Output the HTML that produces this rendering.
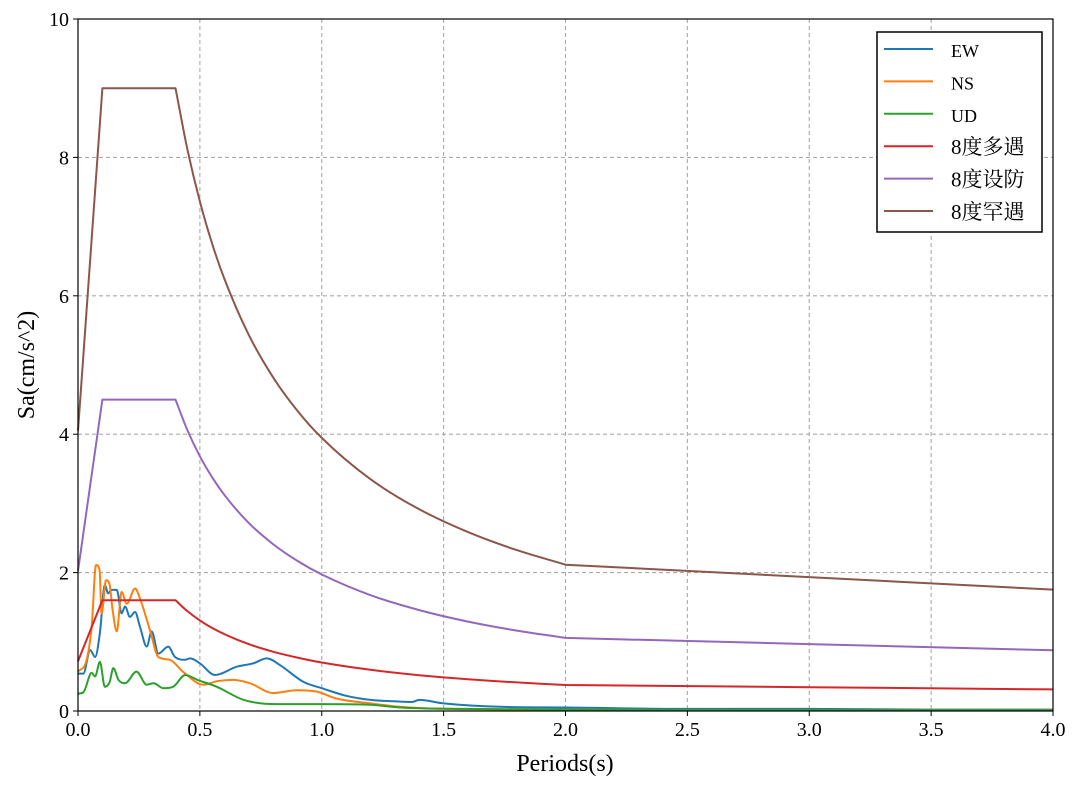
<!DOCTYPE html>
<html><head><meta charset="utf-8">
<style>
html,body{margin:0;padding:0;background:#fff;}
svg{display:block;}
text{font-family:"Liberation Serif","Noto Serif CJK SC",serif;}
</style></head>
<body>
<svg id="chart" width="1080" height="788" xmlns="http://www.w3.org/2000/svg">
<g id="grid"></g>
<g id="series"></g>
<rect x="78" y="19" width="975" height="692" fill="none" stroke="#000" stroke-width="1.2"/>
<g id="ticks"></g>
<text x="565" y="771" font-size="24" text-anchor="middle">Periods(s)</text>
<text transform="translate(34,365) rotate(-90)" font-size="24" text-anchor="middle">Sa(cm/s^2)</text>
<g id="legend">
<rect x="877" y="32" width="165" height="200" fill="#fff" stroke="#000" stroke-width="1.5"/>
</g>
</svg>
<script>
// design spectrum periods and values
const codePeriods=[0,0.1,0.4,0.45,0.5,0.55,0.6,0.7,0.8,0.9,1.0,1.2,1.4,1.6,1.8,2.0,4.0];
const kinkPeriods=[0.1,0.4,2.0];
const freqValues=[0.72,1.6,1.6,1.439,1.309,1.201,1.111,0.967,0.857,0.771,0.701,0.595,0.518,0.460,0.413,0.376,0.312];
const designValues=[2.025,4.5,4.5,4.047,3.681,3.379,3.124,2.719,2.412,2.169,1.973,1.674,1.458,1.292,1.162,1.057,0.877];
const rareValues=[4.05,9,9,8.095,7.363,6.757,6.249,5.439,4.823,4.338,3.946,3.349,2.915,2.585,2.325,2.114,1.754];
// recorded spectra
const ewPeriods=[0,0.022,0.05,0.07,0.09,0.11,0.124,0.137,0.159,0.179,0.193,0.213,0.234,0.254,0.282,0.302,0.33,0.37,0.398,0.439,0.46,0.5,0.562,0.651,0.72,0.774,0.83,0.925,1.0,1.1,1.2,1.3,1.37,1.4,1.5,1.73,2.0,2.5,3.0,3.5,4.0];
const ewValues=[0.54,0.54,0.88,0.78,1.13,1.82,1.70,1.75,1.75,1.41,1.51,1.36,1.43,1.22,0.93,1.15,0.83,0.93,0.78,0.74,0.76,0.69,0.52,0.64,0.69,0.76,0.66,0.42,0.33,0.22,0.16,0.14,0.13,0.16,0.11,0.06,0.05,0.03,0.03,0.02,0.02];
const nsPeriods=[0,0.035,0.056,0.074,0.088,0.097,0.115,0.129,0.142,0.159,0.179,0.2,0.234,0.254,0.295,0.33,0.377,0.43,0.514,0.57,0.637,0.706,0.8,0.897,0.98,1.06,1.2,1.32,1.5,2.0,3.0,4.0];
const nsValues=[0.57,0.73,1.22,2.11,2.04,1.41,1.89,1.84,1.46,1.15,1.72,1.55,1.77,1.63,1.17,0.78,0.74,0.57,0.38,0.43,0.45,0.40,0.26,0.30,0.28,0.18,0.11,0.06,0.03,0.02,0.01,0.01];
const udPeriods=[0,0.022,0.056,0.07,0.09,0.11,0.13,0.145,0.166,0.193,0.24,0.282,0.31,0.35,0.39,0.44,0.49,0.57,0.68,0.815,1.0,1.2,1.32,1.6,2.0,3.0,4.0];
const udValues=[0.25,0.27,0.55,0.50,0.71,0.35,0.42,0.62,0.45,0.40,0.57,0.38,0.40,0.33,0.35,0.52,0.45,0.35,0.16,0.10,0.10,0.09,0.05,0.03,0.02,0.01,0.01];
const xTicks=[0,0.5,1.0,1.5,2.0,2.5,3.0,3.5,4.0];
const xTickLabels=["0.0","0.5","1.0","1.5","2.0","2.5","3.0","3.5","4.0"];
const yTicks=[0,2,4,6,8,10];
const yTickLabels=["0","2","4","6","8","10"];
const seriesNames=["EW","NS","UD","8度多遇","8度设防","8度罕遇"];

const X0=78,X1=1053,Y0=711,Y1=19;
const sx=t=>X0+(t-0)/(4-0)*(X1-X0);
const sy=v=>Y0-(v-0)/(10-0)*(Y0-Y1);
const NS="http://www.w3.org/2000/svg";
function mk(tag,attrs,parent){const e=document.createElementNS(NS,tag);for(const k in attrs)e.setAttribute(k,attrs[k]);parent.appendChild(e);return e;}

// monotone cubic path segment (no leading M)
function monoSeg(xs,ys){
  const n=xs.length;const d=[],m=[];
  if(n<2)return '';
  for(let i=0;i<n-1;i++)d.push((ys[i+1]-ys[i])/(xs[i+1]-xs[i]));
  m[0]=d[0];m[n-1]=d[n-2];
  for(let i=1;i<n-1;i++){m[i]=(d[i-1]*d[i]<=0)?0:(d[i-1]+d[i])/2;}
  for(let i=0;i<n-1;i++){
    if(d[i]===0){m[i]=0;m[i+1]=0;continue;}
    const a=m[i]/d[i],b=m[i+1]/d[i],s=a*a+b*b;
    if(s>9){const t=3/Math.sqrt(s);m[i]=t*a*d[i];m[i+1]=t*b*d[i];}
  }
  let p='';
  for(let i=0;i<n-1;i++){const h=(xs[i+1]-xs[i])/3;
    p+=' C'+(xs[i]+h).toFixed(1)+','+(ys[i]+m[i]*h).toFixed(1)+' '+(xs[i+1]-h).toFixed(1)+','+(ys[i+1]-m[i+1]*h).toFixed(1)+' '+xs[i+1].toFixed(1)+','+ys[i+1].toFixed(1);}
  return p;
}
function buildPath(ts,vs,kinks){
  const xs=ts.map(sx),ys=vs.map(sy);
  let p='M'+xs[0].toFixed(1)+','+ys[0].toFixed(1);
  let start=0;
  for(let i=1;i<ts.length;i++){
    if(i===ts.length-1||kinks.indexOf(ts[i])>=0){
      p+=monoSeg(xs.slice(start,i+1),ys.slice(start,i+1));
      start=i;
    }
  }
  return p;
}

const grid=document.getElementById('grid'),ticks=document.getElementById('ticks');
xTicks.forEach((t,i)=>{
  const x=sx(t);
  if(i>0&&i<xTicks.length-1){const g=mk('line',{x1:x,x2:x,y1:Y1,y2:Y0,stroke:'#aaaaaa','stroke-width':1.1,'stroke-dasharray':'4,3'},grid);
  
  }
  const tk=mk('line',{x1:x,x2:x,y1:Y0,y2:Y0+5,stroke:'#000','stroke-width':1},ticks);
  
  
  const lb=mk('text',{x:x,y:Y0+25,'font-size':20,'text-anchor':'middle'},ticks);lb.textContent=xTickLabels[i];
  
  
});
yTicks.forEach((v,i)=>{
  const y=sy(v);
  if(i>0&&i<yTicks.length-1){const g=mk('line',{x1:X0,x2:X1,y1:y,y2:y,stroke:'#aaaaaa','stroke-width':1.1,'stroke-dasharray':'4,3'},grid);
  
  }
  const tk=mk('line',{x1:X0-5,x2:X0,y1:y,y2:y,stroke:'#000','stroke-width':1},ticks);
  
  
  const lb=mk('text',{x:X0-9,y:y+7,'font-size':20,'text-anchor':'end'},ticks);lb.textContent=yTickLabels[i];
  
  
});

const colors=['#1f77b4','#ff7f0e','#2ca02c','#d62728','#9467bd','#8c564b'];
const data=[[ewPeriods,ewValues,[]],[nsPeriods,nsValues,[]],[udPeriods,udValues,[]],[codePeriods,freqValues,kinkPeriods],[codePeriods,designValues,kinkPeriods],[codePeriods,rareValues,kinkPeriods]];
const names=['ew-line','ns-line','ud-line','frequent-eq-line','design-eq-line','rare-eq-line'];
const sg=document.getElementById('series');
data.forEach((d,i)=>{
  const p=mk('path',{d:buildPath(d[0],d[1],d[2]),fill:'none',stroke:colors[i],'stroke-width':2,'stroke-linejoin':'round'},sg);
  
  
});
const lg=document.getElementById('legend');
seriesNames.forEach((n,i)=>{
  const y=49+i*32.4;
  const l=mk('line',{x1:884,x2:933,y1:y,y2:y,stroke:colors[i],'stroke-width':2},lg);
  
  
  const t=mk('text',{x:951,y:y+8,'font-size':i<3?18:21},lg);
  t.textContent=n;
  
  
});
</script>
</body></html>
